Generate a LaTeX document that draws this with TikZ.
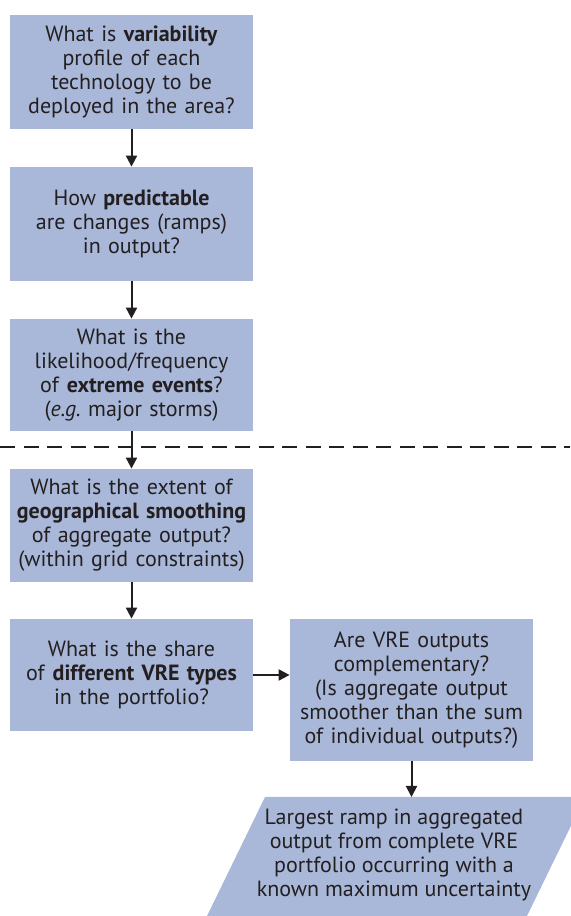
\documentclass[tikz,border=0pt]{standalone}
\usepackage{fontspec}
\setmainfont{PT Sans}
\usetikzlibrary{arrows.meta}
\definecolor{boxblue}{HTML}{A9B8D9}
\definecolor{ink}{HTML}{231F20}

\begin{document}
\begin{tikzpicture}[x=1pt,y=1pt,
  qbox/.style={fill=boxblue,text=ink,text width=120pt,minimum width=121.5pt,
    minimum height=57pt,align=center,inner sep=0pt,
    font=\fontsize{11}{12}\selectfont},
  flow/.style={-{Triangle[length=5.5pt,width=5.5pt]},line width=1pt,draw=ink}]
  \useasboundingbox (0,0) rectangle (285,458);
  % questions on the left
  \node[qbox] (A) at (65.75,422) {What is \textbf{variability}\\profile of each\\technology to be\\deployed in the area?};
  \node[qbox] (B) at (65.75,346) {How \textbf{predictable}\\are changes (ramps)\\in output?};
  \node[qbox,minimum height=56pt] (C) at (65.75,270.5) {What is the\\likelihood/frequency\\of \textbf{extreme events}?\\(\textit{e.g.}\ major storms)};
  \node[qbox,minimum height=56.5pt] (D) at (65.75,195.25) {What is the extent of\\\textbf{geographical smoothing}\\of aggregate output?\\(within grid constraints)};
  \node[qbox,minimum height=56pt] (E) at (65.75,120.5) {What is the share\\of \textbf{different VRE types}\\in the portfolio?};
  \node[qbox,minimum height=71pt] (F) at (205.75,113) {Are VRE outputs\\complementary?\\(Is aggregate output\\smoother than the sum\\of individual outputs?)};
  % result
  \fill[boxblue] (132.5,59.5) -- (292.5,59.5) -- (263.5,0) -- (103.5,0) -- cycle;
  \node[text=ink,align=center,font=\fontsize{11}{12}\selectfont] (G) at (197,30.5) {Largest ramp in aggregated\\output from complete VRE\\portfolio occurring with a\\known maximum uncertainty};
  \coordinate (Gtop) at (205.75,59.5);
  % split line
  \coordinate (L) at (0,234.5);
  \coordinate (R) at (285,234.5);
  \draw[ink,line width=1pt,dash pattern=on 7.5pt off 4.25pt] (L) -- (R);
  \draw[flow] (A) -- (B);
  \draw[flow] (B) -- (C);
  \draw[flow] (C) -- (D);
  \draw[flow] (D) -- (E);
  \draw[flow] (E.east) -- (E.east -| F.west);
  \draw[flow] (F) -- (Gtop);
\end{tikzpicture}
\end{document}
